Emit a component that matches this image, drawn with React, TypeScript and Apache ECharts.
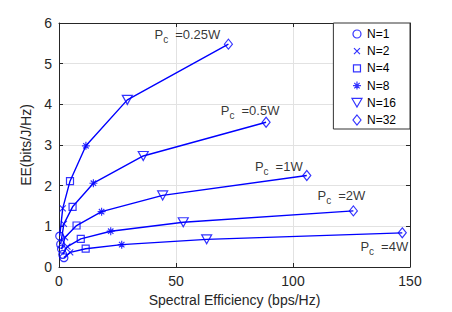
import React, { useEffect, useRef } from 'react';
import * as echarts from 'echarts';

// ---- data ----
const nLabels = ['N=1', 'N=2', 'N=4', 'N=8', 'N=16', 'N=32'];
const pcLabels = ['0.25W', '0.5W', '1W', '2W', '4W'];

// spectral efficiency (x) for N = 1,2,4,8,16,32 at each Pc
const seP025 = [0.3, 1.6, 4.7, 11.5, 29.2, 72.4];
const seP05 = [0.7, 2.1, 5.8, 14.7, 36.0, 88.5];
const seP1 = [1.1, 2.6, 7.5, 18.2, 44.3, 105.9];
const seP2 = [1.6, 3.6, 9.3, 22.1, 53.1, 125.8];
const seP4 = [2.1, 4.8, 11.4, 26.8, 63.1, 146.7];

// energy efficiency (y) for N = 1,2,4,8,16,32 at each Pc
const eeP025 = [0.76, 1.44, 2.11, 2.98, 4.11, 5.48];
const eeP05 = [0.56, 1.06, 1.48, 2.06, 2.73, 3.56];
const eeP1 = [0.44, 0.73, 1.02, 1.36, 1.76, 2.25];
const eeP2 = [0.31, 0.5, 0.69, 0.88, 1.1, 1.38];
const eeP4 = [0.23, 0.36, 0.45, 0.55, 0.68, 0.84];

const xTicks = { min: 0, max: 150, interval: 50 };
const yTicks = { min: 0, max: 6, interval: 1 };

// ---- styling ----
const seByPc = [seP025, seP05, seP1, seP2, seP4];
const eeByPc = [eeP025, eeP05, eeP1, eeP2, eeP4];

const BLUE = '#0000ff';
const AXIS = '#262626';
const GRIDC = '#e2e2e2';
const FONT = "'Liberation Sans', Arial, Helvetica, sans-serif";

const markers: { symbol: string; size: number | number[]; legend: string }[] = [
  { symbol: 'circle', size: 8, legend: 'path://M-1,-1M8,4A4,4,0,1,1,0,4A4,4,0,1,1,8,4ZM9,9' },
  { symbol: 'path://M0,0L10,10M10,0L0,10', size: 6, legend: 'path://M-2,-2M0,0L6,6M6,0L0,6M8,8' },
  { symbol: 'rect', size: 7, legend: 'path://M-1.5,-1.5M0,0L7,0L7,7L0,7ZM8.5,8.5' },
  {
    symbol: 'path://M5,0L5,10M0,5L10,5M1.6,1.6L8.4,8.4M8.4,1.6L1.6,8.4',
    size: 8,
    legend: 'path://M-1,-1M4,0L4,8M0,4L8,4M1.3,1.3L6.7,6.7M6.7,1.3L1.3,6.7M9,9',
  },
  { symbol: 'path://M0,0L10,0L5,8.66Z', size: [10, 9], legend: 'path://M0,0L10,0L5,8.66Z' },
  { symbol: 'diamond', size: [8, 10], legend: 'path://M0,0M5,0L9,5L5,10L1,5ZM10,10' },
];

// label offsets (text centre relative to the N=32 marker), px
const labelOffsets = [
  [-41, -9.5],
  [-16, -12],
  [-28, -9.5],
  [-12, -15],
  [-18, 13.5],
];

export default function App() {
  const ref = useRef<HTMLDivElement>(null);

  useEffect(() => {
    if (!ref.current) return;
    const chart = echarts.init(ref.current, undefined, { renderer: 'svg' });

    const lineSeries = pcLabels.map((pc, p) => ({
      name: 'Pc=' + pc,
      type: 'line',
      xAxisIndex: 0,
      yAxisIndex: 0,
      symbol: 'none',
      showSymbol: false,
      silent: true,
      data: seByPc[p].map((x, i) => [x, eeByPc[p][i]]),
      lineStyle: { color: BLUE, width: 1.4 },
      z: 2,
    }));

    const scatterSeries = nLabels.map((n, k) => ({
      name: n,
      type: 'scatter',
      xAxisIndex: 0,
      yAxisIndex: 0,
      symbol: markers[k].symbol,
      symbolSize: markers[k].size,
      silent: true,
      itemStyle: { color: 'transparent', borderColor: BLUE, borderWidth: 1.2 },
      data: pcLabels.map((pc, p) => {
        const item: any = { value: [seByPc[p][k], eeByPc[p][k]] };
        if (k === nLabels.length - 1) {
          item.label = {
            show: true,
            position: 'inside',
            align: 'center',
            verticalAlign: 'middle',
            offset: labelOffsets[p],
            formatter: '{p|P}{s|c}{g| }{p|=' + pc + '}',
            rich: {
              p: { fontSize: 13, color: '#000', lineHeight: 20, fontFamily: FONT },
              s: { fontSize: 10, color: '#000', lineHeight: 4, verticalAlign: 'bottom', fontFamily: FONT },
              g: { fontSize: 13, width: 7, lineHeight: 20, fontFamily: FONT },
            },
          };
        }
        return item;
      }),
      z: 3,
    }));

    const axisLine = { show: true, onZero: false, lineStyle: { color: AXIS, width: 1 } };
    const axisTick = { show: true, inside: true, length: 4, lineStyle: { color: AXIS, width: 1 } };

    chart.setOption({
      animation: false,
      backgroundColor: '#ffffff',
      textStyle: { fontFamily: FONT },
      grid: { left: 59, right: 42, top: 23, bottom: 45, containLabel: false },
      legend: {
        orient: 'vertical',
        right: 42,
        top: 23,
        padding: [4, 14, 2, 18],
        itemWidth: 10,
        itemHeight: 10,
        itemGap: 3.2,
        itemTextGap: 22,
        backgroundColor: '#ffffff',
        borderColor: '#333333',
        borderWidth: 1,
        selectedMode: false,
        textStyle: { fontSize: 12, color: '#000', lineHeight: 14, fontFamily: FONT },
        data: nLabels.map((n, k) => ({
          name: n,
          icon: markers[k].legend,
          itemStyle: { color: 'transparent', borderColor: BLUE, borderWidth: 1.2 },
        })),
      },
      xAxis: [
        {
          type: 'value',
          position: 'bottom',
          min: xTicks.min,
          max: xTicks.max,
          interval: xTicks.interval,
          axisLine,
          axisTick,
          axisLabel: { color: AXIS, fontSize: 14, margin: 7, fontFamily: FONT },
          splitLine: { show: true, lineStyle: { color: GRIDC, width: 1 } },
          name: 'Spectral Efficiency (bps/Hz)',
          nameLocation: 'middle',
          nameGap: 25,
          nameTextStyle: { color: AXIS, fontSize: 14, fontFamily: FONT },
        },
        {
          type: 'value',
          position: 'top',
          min: xTicks.min,
          max: xTicks.max,
          interval: xTicks.interval,
          axisLine,
          axisTick,
          axisLabel: { show: false },
          splitLine: { show: false },
        },
      ],
      yAxis: [
        {
          type: 'value',
          position: 'left',
          min: yTicks.min,
          max: yTicks.max,
          interval: yTicks.interval,
          axisLine,
          axisTick,
          axisLabel: { color: AXIS, fontSize: 14, margin: 7, fontFamily: FONT },
          splitLine: { show: true, lineStyle: { color: GRIDC, width: 1 } },
          name: 'EE(bits/J/Hz)',
          nameLocation: 'middle',
          nameGap: 20,
          nameTextStyle: { color: AXIS, fontSize: 14, fontFamily: FONT },
        },
        {
          type: 'value',
          position: 'right',
          min: yTicks.min,
          max: yTicks.max,
          interval: yTicks.interval,
          axisLine,
          axisTick,
          axisLabel: { show: false },
          splitLine: { show: false },
        },
      ],
      series: [...lineSeries, ...scatterSeries],
    });

    return () => {
      chart.dispose();
    };
  }, []);

  return (
    <div
      ref={ref}
      style={{ position: 'absolute', left: 0, top: 0, width: 452, height: 312, background: '#fff' }}
    />
  );
}
